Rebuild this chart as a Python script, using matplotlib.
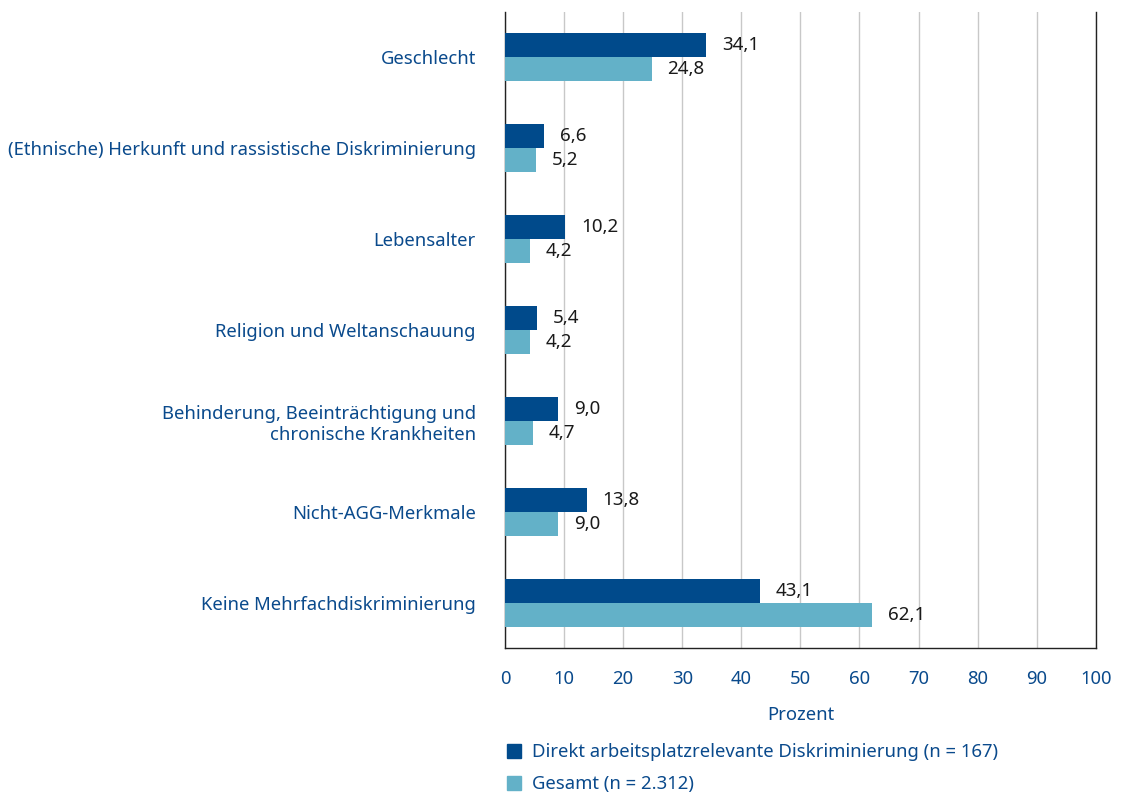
import matplotlib.pyplot as plt
from matplotlib.patches import Patch
import numpy as np

categories = [
    "Geschlecht",
    "(Ethnische) Herkunft und rassistische Diskriminierung",
    "Lebensalter",
    "Religion und Weltanschauung",
    "Behinderung, Beeinträchtigung und\nchronische Krankheiten",
    "Nicht-AGG-Merkmale",
    "Keine Mehrfachdiskriminierung",
]
direkt = [34.1, 6.6, 10.2, 5.4, 9.0, 13.8, 43.1]
gesamt = [24.8, 5.2, 4.2, 4.2, 4.7, 9.0, 62.1]
series_names = ["Direkt arbeitsplatzrelevante Diskriminierung (n = 167)",
                "Gesamt (n = 2.312)"]

DARK = "#004a8b"
LIGHT = "#63b1c8"
TXT = "#0a4a8c"

plt.rcParams['font.family'] = ['Noto Sans', 'DejaVu Sans']

fig = plt.figure(figsize=(11.21, 7.96), dpi=100)
ax = fig.add_axes([0.4505, 0.186, 0.527, 0.799])

y = np.arange(len(categories))
h = 0.264
b1 = ax.barh(y - h / 2, direkt, height=h, color=DARK, zorder=3)
b2 = ax.barh(y + h / 2, gesamt, height=h, color=LIGHT, zorder=3)

def fmt(v):
    return f"{v:.1f}".replace(".", ",")

for bars, vals in ((b1, direkt), (b2, gesamt)):
    for r, v in zip(bars, vals):
        ax.text(v + 2.7, r.get_y() + r.get_height() / 2, fmt(v),
                va="center", ha="left", fontsize=13.5, color="#1a1a1a")

ax.set_ylim(len(categories) - 0.5, -0.5)
ax.set_xlim(0, 100)
ax.set_xticks(range(0, 101, 10))
ax.set_yticks(y)
ax.set_yticklabels(categories, fontsize=13.3, color=TXT, ha="right")
ax.tick_params(axis="y", length=0, pad=21)
ax.tick_params(axis="x", length=0, pad=16, labelsize=13.3, labelcolor=TXT)
for lab in ax.get_yticklabels():
    lab.set_multialignment("right")

ax.grid(axis="x", color="#c8c8c8", linewidth=1, zorder=0)
ax.spines["top"].set_visible(False)
for s in ("left", "bottom", "right"):
    ax.spines[s].set_color("#222222")
    ax.spines[s].set_linewidth(1)

ax.set_xlabel("Prozent", fontsize=13.3, color=TXT, labelpad=13)

handles = [Patch(color=DARK), Patch(color=LIGHT)]
leg = fig.legend(handles, series_names, loc="upper left",
                 bbox_to_anchor=(0.437, 0.087), frameon=False,
                 fontsize=13.3, handlelength=0.8, handleheight=0.8,
                 handletextpad=0.6, labelspacing=0.75)
for t in leg.get_texts():
    t.set_color(TXT)

fig.savefig("out.png", dpi=100)
